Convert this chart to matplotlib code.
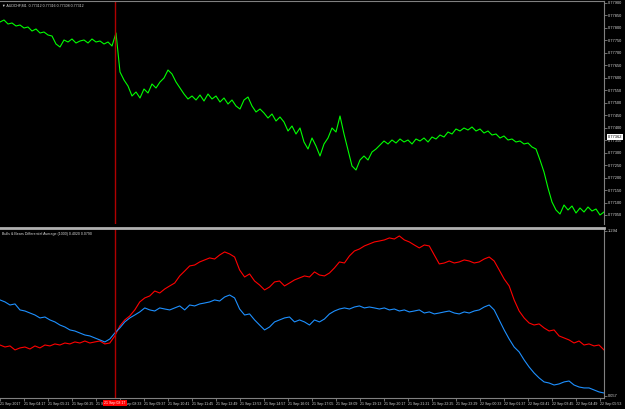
import matplotlib.pyplot as plt
import matplotlib.transforms as mtransforms
import numpy as np

# AUDCHF M1 close, in points (1e-5)
close_pts = [
    77822, 77830, 77814, 77818, 77806, 77810, 77798, 77802, 77786, 77794,
    77778, 77782, 77770, 77766, 77734, 77722, 77750, 77742, 77754, 77738,
    77746, 77750, 77738, 77754, 77742, 77746, 77734, 77742, 77726, 77778,
    77622, 77590, 77566, 77526, 77542, 77518, 77554, 77538, 77574, 77558,
    77582, 77598, 77630, 77614, 77582, 77558, 77534, 77514, 77526, 77510,
    77530, 77506, 77534, 77514, 77526, 77502, 77518, 77494, 77510, 77486,
    77474, 77510, 77522, 77486, 77462, 77474, 77458, 77438, 77454, 77426,
    77442, 77422, 77386, 77406, 77374, 77398, 77342, 77314, 77358, 77326,
    77286, 77334, 77358, 77398, 77382, 77446, 77374, 77310, 77246, 77230,
    77270, 77286, 77270, 77302, 77314, 77330, 77346, 77334, 77350, 77338,
    77354, 77342, 77350, 77334, 77354, 77346, 77358, 77342, 77362, 77354,
    77370, 77362, 77382, 77374, 77394, 77386, 77398, 77390, 77402, 77386,
    77394, 77378, 77386, 77370, 77374, 77358, 77366, 77350, 77354, 77342,
    77346, 77334, 77338, 77322, 77314, 77270, 77222, 77158, 77102, 77070,
    77054, 77090, 77070, 77086, 77058, 77078, 77062, 77082, 77066, 77074,
    77050, 77062,
]

# Bulls & Bears Differential Average (1000)
bulls = [
    0.439, 0.424, 0.432, 0.402, 0.417, 0.424, 0.409, 0.432, 0.417, 0.439,
    0.432, 0.447, 0.439, 0.454, 0.447, 0.462, 0.454, 0.469, 0.454, 0.462,
    0.469, 0.447, 0.454, 0.507, 0.582, 0.627, 0.657, 0.702, 0.762, 0.792,
    0.807, 0.844, 0.829, 0.859, 0.882, 0.904, 0.957, 0.994, 1.032, 1.039,
    1.062, 1.077, 1.092, 1.084, 1.114, 1.137, 1.122, 1.099, 1.002, 0.949,
    0.972, 0.919, 0.889, 0.852, 0.874, 0.912, 0.919, 0.882, 0.904, 0.927,
    0.942, 0.957, 0.949, 0.987, 0.964, 0.957, 0.979, 1.017, 1.062, 1.054,
    1.107, 1.144, 1.159, 1.182, 1.197, 1.212, 1.219, 1.227, 1.242, 1.234,
    1.257, 1.227, 1.212, 1.189, 1.167, 1.189, 1.182, 1.114, 1.047, 1.054,
    1.069, 1.054, 1.062, 1.077, 1.069, 1.054, 1.062, 1.084, 1.099, 1.069,
    1.002, 0.934, 0.882, 0.777, 0.694, 0.642, 0.604, 0.589, 0.597, 0.567,
    0.544, 0.552, 0.507, 0.492, 0.477, 0.454, 0.469, 0.439, 0.447, 0.432,
    0.439, 0.402,
]
bears = [
    0.777, 0.762, 0.739, 0.747, 0.702, 0.694, 0.679, 0.664, 0.642, 0.649,
    0.627, 0.612, 0.589, 0.574, 0.552, 0.544, 0.529, 0.514, 0.507, 0.492,
    0.477, 0.462, 0.484, 0.529, 0.567, 0.612, 0.642, 0.664, 0.687, 0.717,
    0.702, 0.694, 0.717, 0.709, 0.702, 0.717, 0.732, 0.702, 0.739, 0.732,
    0.747, 0.754, 0.762, 0.777, 0.769, 0.799, 0.814, 0.792, 0.709, 0.664,
    0.672, 0.627, 0.589, 0.552, 0.574, 0.612, 0.627, 0.642, 0.649, 0.612,
    0.627, 0.612, 0.589, 0.627, 0.612, 0.634, 0.672, 0.694, 0.709, 0.717,
    0.709, 0.724, 0.732, 0.717, 0.724, 0.717, 0.709, 0.717, 0.702, 0.709,
    0.694, 0.702, 0.687, 0.694, 0.702, 0.679, 0.687, 0.672, 0.679, 0.687,
    0.694, 0.679, 0.672, 0.687, 0.679, 0.694, 0.702, 0.724, 0.739, 0.702,
    0.627, 0.552, 0.484, 0.424, 0.387, 0.327, 0.274, 0.229, 0.192, 0.162,
    0.154, 0.139, 0.147, 0.162, 0.169, 0.139, 0.124, 0.117, 0.117, 0.102,
    0.087, 0.079,
]

time_labels = [
    '21 Sep 2017', '21 Sep 04:17', '21 Sep 05:21', '21 Sep 06:25', '21 Sep 07:29',
    '21 Sep 08:33', '21 Sep 09:37', '21 Sep 10:41', '21 Sep 11:45', '21 Sep 12:49',
    '21 Sep 13:53', '21 Sep 14:57', '21 Sep 16:01', '21 Sep 17:05', '21 Sep 18:09',
    '21 Sep 19:13', '21 Sep 20:17', '21 Sep 21:21', '21 Sep 22:25', '21 Sep 23:29',
    '22 Sep 00:33', '22 Sep 01:37', '22 Sep 02:41', '22 Sep 03:45', '22 Sep 04:49',
    '22 Sep 05:53',
]
bars_per_label = 64
n_bars = 1610
cursor_bar = 306
cursor_label = '21 Sep 08:17'

price_ticks = np.arange(0.77050, 0.779001, 0.0005)
ind_ticks = [0.057, 1.294]
bid_price = 0.77362

plt.rcParams['font.family'] = ['Liberation Sans', 'DejaVu Sans']

BG = 'black'
GRID = '#808080'
TXT = '#d8d8d8'
FS = 2.6

W, H = 625, 409
fig = plt.figure(figsize=(W / 100, H / 100), dpi=100, facecolor=BG)


def px_axes(x0, y0, x1, y1):
    return fig.add_axes([x0 / W, 1 - y1 / H, (x1 - x0) / W, (y1 - y0) / H])


ax1 = px_axes(0, 1, 604, 224)
ax2 = px_axes(0, 228, 604, 398)

close = np.array(close_pts) / 1e5
x_close = np.linspace(0, n_bars, len(close))
x_ind = np.linspace(0, n_bars, len(bulls))

ax1.plot(x_close, close, color='#00ff00', lw=0.8)
ax2.plot(x_ind, bulls, color='#ff0000', lw=0.8)
ax2.plot(x_ind, bears, color='#1e90ff', lw=0.8)

for ax in (ax1, ax2):
    ax.set_facecolor(BG)
    ax.set_xlim(0, n_bars)
    ax.axvline(cursor_bar, color='#b00000', lw=1.0)
    ax.yaxis.tick_right()
    ax.tick_params(axis='y', colors=GRID, labelcolor=TXT, labelsize=FS + 0.3,
                   length=2, width=0.6, pad=1, direction='out')
    for s in ax.spines.values():
        s.set_color(GRID)
        s.set_linewidth(0.8)
    ax.spines['left'].set_visible(False)

ax1.set_ylim(0.77910 - 0.00004 * 224, 0.77910 - 0.00004 * 1)
ax1.set_yticks(price_ticks)
ax1.set_yticklabels([f'{p:.5f}' for p in price_ticks])
ax1.set_xticks([])
ax1.spines['bottom'].set_visible(False)

ax2.set_ylim(3.0265 - 0.0075 * 398, 3.0265 - 0.0075 * 228)
ax2.set_yticks(ind_ticks)
ax2.set_yticklabels([f'{v:.3f}' for v in ind_ticks])
ax2.spines['top'].set_color('#b0b0b0')
ax2.spines['top'].set_linewidth(2.0)

ticks = [i * bars_per_label for i in range(len(time_labels))]
ax2.set_xticks(ticks)
ax2.set_xticklabels(time_labels, ha='left')
ax2.tick_params(axis='x', colors=GRID, labelcolor=TXT, labelsize=FS,
                length=2, width=0.6, pad=1, direction='out')

# headers
ax1.text(0.004, 0.99, '\u25bc AUDCHF,M1  0.77312 0.77316 0.77308 0.77312',
         transform=ax1.transAxes, color=TXT, fontsize=FS, va='top', ha='left')
ax2.text(0.004, 0.975, 'Bulls & Bears Differential Average (1000) 0.4020 0.0790',
         transform=ax2.transAxes, color=TXT, fontsize=FS, va='top', ha='left')

# current price box on the price scale
tr1 = mtransforms.blended_transform_factory(ax1.transAxes, ax1.transData)
ax1.text(1.006, bid_price, f'{bid_price:.5f}', transform=tr1, color='black',
         fontsize=FS + 0.3, va='center', ha='left',
         bbox=dict(facecolor='white', edgecolor='none', pad=0.5))

# cursor time box on the time scale
tr2 = mtransforms.blended_transform_factory(ax2.transData, ax2.transAxes)
ax2.text(cursor_bar, -0.016, cursor_label, transform=tr2, color='white',
         fontsize=FS, va='top', ha='center', zorder=5,
         bbox=dict(facecolor='#ff0000', edgecolor='none', pad=0.8))

fig.savefig('out.png', dpi=100, facecolor=BG)
